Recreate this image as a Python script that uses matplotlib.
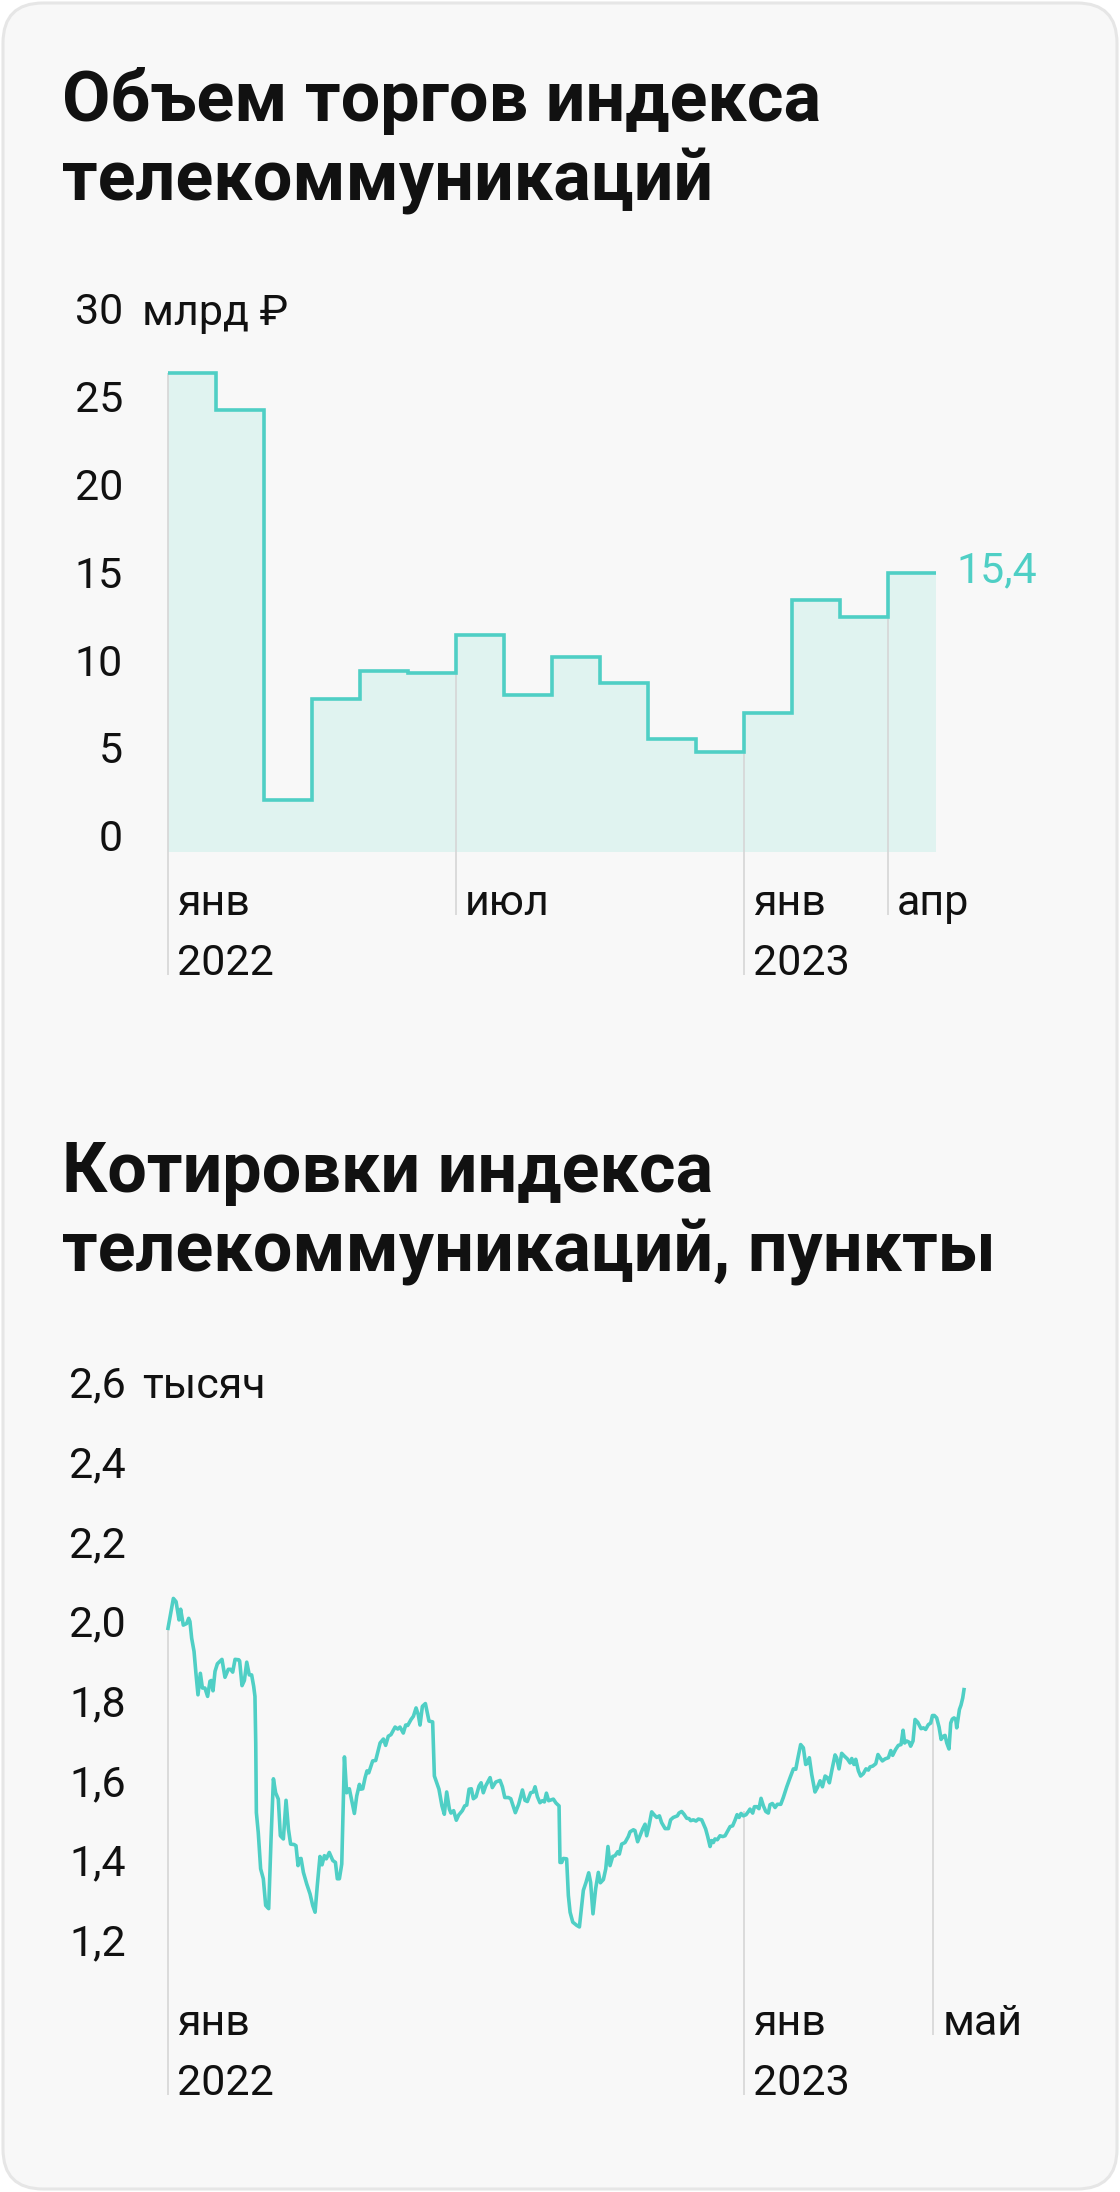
import matplotlib
matplotlib.use("Agg")
import matplotlib.pyplot as plt
import matplotlib.transforms as mtransforms
from matplotlib.patches import FancyBboxPatch
import numpy as np

plt.rcParams['font.family'] = ['Roboto', 'DejaVu Sans']

W, H, DPI = 1120, 2192, 100

TEAL = "#4fcfc5"
FILL = "#e0f3f0"
GRID = "#d6d6d6"
CARD = "#f8f8f8"
INK = "#111111"

# --- monthly trading volume, bn rub (jan 2022 .. apr 2023)
volume = [26.8, 24.65, 2.44, 8.2, 9.78, 9.69, 11.85, 8.41, 10.61, 9.09,
          5.95, 5.17, 7.41, 13.85, 12.85, 15.4]
volume_ticks = [0, 5, 10, 15, 20, 25, 30]
volume_unit = "млрд ₽"
volume_last = "15,4"
# (month index, month name, year)
volume_xlabels = [(0, "янв", "2022"), (6, "июл", ""), (12, "янв", "2023"), (15, "апр", "")]

# --- index quotes, thousand points; day = days since 2022-01-01
quote_day = [
    0.0, 3.4, 5.1, 7.0, 8.0, 9.7, 11.8, 13.1, 13.9, 15.0, 16.5, 17.7, 19.0, 20.5, 21.8,
    23.4, 25.1, 26.6, 27.5, 28.5, 29.8, 31.3, 34.2, 36.1, 38.2, 39.7, 41.0, 42.5, 44.8,
    45.4, 46.9, 48.4, 49.9, 51.5, 53.0, 54.3, 55.1, 55.6, 56.0, 57.2, 58.7, 60.4, 61.9,
    63.8, 65.3, 66.8, 68.2, 69.9, 71.2, 73.1, 74.8, 76.3, 77.7, 79.9, 81.1, 82.4, 83.2,
    84.3, 85.8, 87.9, 90.0, 91.7, 93.2, 94.6, 96.3, 97.6, 99.1, 100.3, 102.2, 104.4,
    106.1, 107.3, 108.6, 110.1, 111.8, 113.2, 114.9, 118.1, 119.6, 121.3, 122.1, 123.4,
    124.9, 126.1, 127.2, 129.7, 131.6, 134.4, 136.5, 137.9, 139.6, 141.3, 143.9, 145.6,
    147.0, 149.1, 150.6, 151.9, 154.0, 155.5, 157.2, 158.6, 159.7, 161.2, 163.1, 165.4,
    167.7, 168.8, 170.1, 171.7, 173.6, 175.1, 176.6, 178.3, 179.3, 181.0, 182.7, 184.2,
    186.5, 188.0, 189.3, 190.8, 192.2, 193.5, 195.2, 197.1, 198.4, 199.8, 201.3, 204.1,
    205.5, 207.7, 210.4, 211.9, 213.4, 215.7, 217.2, 220.1, 222.2, 224.6, 226.2, 227.7,
    229.8, 231.5, 232.6, 234.1, 235.7, 237.2, 238.5, 239.8, 241.2, 244.2, 245.9, 247.8,
    248.4, 249.5, 250.5, 252.6, 253.7, 254.8, 256.5, 259.0, 260.7,
    263.2, 264.9, 266.6, 267.8, 269.3, 271.0, 272.7, 274.0, 275.9, 277.4, 278.8, 280.1,
    281.8, 283.3, 285.0, 286.0, 287.5, 289.6, 291.7, 292.8, 294.9, 295.9, 297.6, 299.1,
    300.8, 302.3, 303.3, 304.8, 306.5, 308.2, 309.7, 311.4, 312.8, 315.0, 317.1, 318.5,
    320.2, 322.8, 323.8, 325.5, 327.0, 328.7, 330.2, 331.2, 332.9, 334.6, 336.1, 338.2,
    339.2, 340.7, 342.0, 343.5, 344.5, 345.6, 346.6, 348.1, 349.8, 351.5, 353.0, 355.1,
    356.2, 357.8, 359.3, 360.6, 361.9, 363.1, 364.6, 366.3, 367.8, 368.8, 370.5, 371.6,
    373.1, 374.5, 375.8, 377.3, 378.8, 380.4, 381.5, 383.0, 384.7, 386.1, 388.3, 389.9,
    392.1, 394.2, 396.3, 397.8, 399.0, 400.9, 402.6, 404.1, 405.2, 406.4, 407.9, 410.0,
    411.5, 413.2, 414.7, 416.4, 417.8, 419.1, 420.8, 422.7, 423.7, 425.2, 426.9, 428.6,
    430.5, 432.2, 433.3, 434.7, 435.8, 437.5, 438.9, 440.6, 442.3, 443.8, 444.9, 446.6,
    448.5, 449.9, 451.2, 452.7, 454.4, 456.5, 458.0, 459.2, 461.1, 462.8, 464.5, 465.8,
    466.8, 468.1, 469.6, 470.6, 472.1, 473.4, 475.1, 477.2, 478.7, 480.1, 481.8, 483.3,
    484.4, 485.6, 487.1, 488.6, 489.9, 491.3, 492.4, 493.5, 494.9, 496.0, 497.0, 498.1,
    499.2, 499.8, 500.9, 501.5, 502.5, 503.6, 504.4,
]
quote_value = [
    1.986, 2.061, 2.053, 2.007, 2.034, 1.994, 1.998, 2.011, 2.003, 1.961, 1.928, 1.873,
    1.819, 1.873, 1.836, 1.836, 1.815, 1.853, 1.855, 1.829, 1.878, 1.897, 1.908, 1.863,
    1.883, 1.883, 1.876, 1.908, 1.907, 1.904, 1.842, 1.855, 1.901, 1.869, 1.869, 1.840,
    1.815, 1.698, 1.523, 1.473, 1.382, 1.357, 1.290, 1.282, 1.457, 1.608, 1.573, 1.557,
    1.465, 1.457, 1.554, 1.482, 1.444, 1.443, 1.440, 1.390, 1.407, 1.408, 1.373, 1.344,
    1.319, 1.290, 1.273, 1.340, 1.413, 1.392, 1.415, 1.407, 1.423, 1.403, 1.398, 1.357,
    1.357, 1.394, 1.663, 1.573, 1.583, 1.521, 1.565, 1.594, 1.582, 1.583, 1.611, 1.628,
    1.623, 1.653, 1.654, 1.698, 1.708, 1.692, 1.715, 1.719, 1.738, 1.733, 1.738, 1.723,
    1.743, 1.742, 1.757, 1.765, 1.786, 1.769, 1.743, 1.790, 1.797, 1.753, 1.751, 1.615,
    1.600, 1.582, 1.540, 1.519, 1.575, 1.532, 1.522, 1.528, 1.504, 1.517, 1.528, 1.540,
    1.542, 1.582, 1.583, 1.558, 1.563, 1.590, 1.598, 1.573, 1.590, 1.611, 1.586, 1.600,
    1.604, 1.588, 1.561, 1.561, 1.558, 1.523, 1.544, 1.580, 1.554, 1.551, 1.573, 1.575,
    1.588, 1.563, 1.548, 1.553, 1.550, 1.572, 1.553, 1.557, 1.547, 1.540, 1.398, 1.398,
    1.408, 1.407, 1.315, 1.273, 1.248, 1.240, 1.236,
    1.328, 1.348, 1.372, 1.348, 1.269, 1.332, 1.373, 1.347, 1.355, 1.382, 1.438, 1.390,
    1.413, 1.415, 1.425, 1.419, 1.444, 1.448, 1.463, 1.475, 1.480, 1.478, 1.450, 1.465,
    1.482, 1.494, 1.465, 1.490, 1.525, 1.517, 1.511, 1.515, 1.498, 1.483, 1.483, 1.505,
    1.511, 1.515, 1.522, 1.526, 1.519, 1.509, 1.508, 1.503, 1.505, 1.502, 1.507, 1.505,
    1.496, 1.482, 1.463, 1.438, 1.453, 1.448, 1.457, 1.455, 1.465, 1.463, 1.465, 1.480,
    1.488, 1.490, 1.504, 1.518, 1.511, 1.521, 1.515, 1.518, 1.526, 1.532, 1.522, 1.538,
    1.538, 1.533, 1.559, 1.540, 1.526, 1.522, 1.543, 1.546, 1.536, 1.544, 1.544, 1.561,
    1.588, 1.611, 1.633, 1.632, 1.657, 1.694, 1.686, 1.644, 1.647, 1.661, 1.619, 1.575,
    1.586, 1.603, 1.588, 1.615, 1.611, 1.598, 1.632, 1.668, 1.661, 1.633, 1.672, 1.665,
    1.658, 1.648, 1.659, 1.644, 1.657, 1.628, 1.615, 1.621, 1.633, 1.630, 1.638, 1.640,
    1.646, 1.669, 1.661, 1.653, 1.658, 1.661, 1.679, 1.667, 1.682, 1.692, 1.694, 1.730,
    1.698, 1.703, 1.700, 1.690, 1.703, 1.757, 1.750, 1.734, 1.736, 1.732, 1.744, 1.748,
    1.767, 1.767, 1.761, 1.738, 1.707, 1.715, 1.717, 1.698, 1.683, 1.748, 1.758, 1.761,
    1.757, 1.736, 1.765, 1.782, 1.793, 1.811, 1.832,
]
quote_ticks = [1.2, 1.4, 1.6, 1.8, 2.0, 2.2, 2.4, 2.6]
quote_unit = "тысяч"
# (days since 2022-01-01, month name, year)
quote_xlabels = [(0, "янв", "2022"), (365, "янв", "2023"), (485, "май", "")]

titles = [("Объем торгов индекса", "телекоммуникаций"),
          ("Котировки индекса", "телекоммуникаций, пункты")]


def fx(px):
    return px / W


def fy(px):
    return 1 - px / H


fig = plt.figure(figsize=(W / DPI, H / DPI), dpi=DPI)
fig.patch.set_facecolor("white")

card = FancyBboxPatch((0.03, 0.03), W / DPI - 0.06, H / DPI - 0.06,
                      boxstyle="round,pad=0,rounding_size=0.4",
                      transform=fig.dpi_scale_trans, facecolor=CARD,
                      edgecolor="#e6e6e6", linewidth=2.2, zorder=-10)
fig.patches.append(card)

for (l1, l2), (b1, b2) in zip(titles, [(121, 200), (1192, 1272)]):
    fig.text(fx(62), fy(b1), l1, fontsize=50.5, fontweight="bold", color=INK, va="baseline")
    fig.text(fx(62), fy(b2), l2, fontsize=50.5, fontweight="bold", color=INK, va="baseline")

LABEL_FS = 31
PX = 72 / DPI  # pixels -> points


def y_labels(ax, ticks, fmt, right_px, unit, drop_px):
    tr = mtransforms.blended_transform_factory(fig.transFigure, ax.transData)
    tr = mtransforms.offset_copy(tr, fig=fig, y=-drop_px * PX, units="points")
    for t in ticks:
        fig.text(fx(right_px), t, fmt(t), transform=tr, ha="right", va="baseline",
                 fontsize=LABEL_FS, color=INK)
    fig.text(fx(142), ticks[-1], unit, transform=tr, ha="left", va="baseline",
             fontsize=LABEL_FS, color=INK)


def x_labels(ax, labels, base1, base2, top_of):
    tr = mtransforms.blended_transform_factory(ax.transData, fig.transFigure)
    tr_txt = mtransforms.offset_copy(tr, fig=fig, x=9 * PX, units="points")
    for x, month, year in labels:
        bottom = base2 if year else base1
        y_bottom = ax.transData.inverted().transform(
            fig.transFigure.transform((0, fy(bottom))))[1]
        ax.plot([x, x], [top_of(x), y_bottom], color=GRID, lw=1.2,
                clip_on=False, zorder=1, solid_capstyle="butt")
        fig.text(x, fy(base1), month, transform=tr_txt, ha="left", va="baseline",
                 fontsize=LABEL_FS, color=INK)
        if year:
            fig.text(x, fy(base2), year, transform=tr_txt, ha="left", va="baseline",
                     fontsize=LABEL_FS, color=INK)


# ---------------- top chart: volume steps
ax1 = fig.add_axes([fx(168), fy(851.8), fx(936) - fx(168), fy(316.5) - fy(851.8)])
ax1.set_xlim(0, len(volume))
ax1.set_ylim(-0.5, 30)
ax1.set_axis_off()
edges = np.arange(len(volume) + 1)
ax1.stairs(volume, edges, baseline=-0.5, fill=True, color=FILL, lw=0, zorder=0.5)
step = ax1.stairs(volume, edges, baseline=None, color=TEAL, lw=2.6, zorder=3)
step.set_joinstyle("miter")
y_labels(ax1, volume_ticks, lambda t: f"{t}", 123, volume_unit, 8)
x_labels(ax1, volume_xlabels, 915, 975, lambda x: volume[int(x)])
tr_last = mtransforms.offset_copy(ax1.transData, fig=fig, x=20 * PX, y=-10 * PX, units="points")
ax1.text(len(volume), volume[-1], volume_last, transform=tr_last, ha="left", va="baseline",
         fontsize=LABEL_FS, color=TEAL, clip_on=False)

# ---------------- bottom chart: quotes
days_span = 16 * 365 / 12
ax2 = fig.add_axes([fx(168), fy(1981.1), fx(936) - fx(168), fy(1344.0) - fy(1981.1)])
ax2.set_xlim(0, days_span)
ax2.set_ylim(1.1, 2.7)
ax2.set_axis_off()
qd = np.array(quote_day)
qv = np.array(quote_value)
ax2.plot(qd, qv, color=TEAL, lw=2.6, clip_on=False, zorder=3, solid_joinstyle="round")
y_labels(ax2, quote_ticks, lambda t: f"{t:.1f}".replace(".", ","), 126, quote_unit, 14)


def quote_top(x):
    near = qv[np.abs(qd - x) <= 3]
    return near.max() if len(near) else np.interp(x, qd, qv)


x_labels(ax2, quote_xlabels, 2035, 2095, quote_top)

fig.savefig("out.png", dpi=DPI, facecolor=fig.get_facecolor())
